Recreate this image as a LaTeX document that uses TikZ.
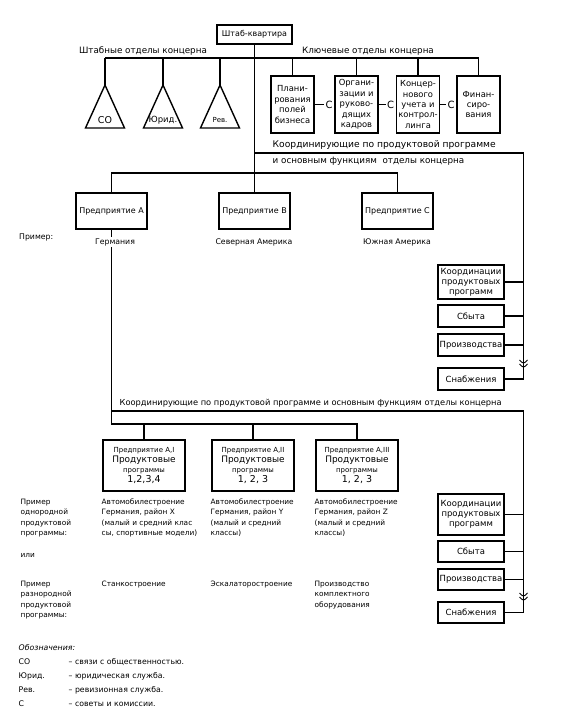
\documentclass[tikz,border=0pt]{standalone}
\usepackage{fontspec}
\setmainfont{DejaVu Sans}
\usepackage{tikz}
\usetikzlibrary{positioning}

\begin{document}
\begin{tikzpicture}[x=1bp,y=-1bp,line width=1.4bp,
  box/.style={draw,inner sep=1bp,align=center,font=\fontsize{8}{10}\selectfont},
  lbl/.style={inner sep=1.5bp,font=\fontsize{7.8}{9}\selectfont},
  head/.style={inner sep=0pt,font=\fontsize{8.8}{10}\selectfont},
  note/.style={inner sep=0pt,align=left,anchor=north west,font=\fontsize{7.4}{10.5}\selectfont},
  cmark/.style={inner sep=0.5bp,font=\fontsize{10}{10}\selectfont}]
\useasboundingbox (0,0) rectangle (561,720);

\node[box,minimum width=75bp,minimum height=19bp] (hq) at (254.5,34.5) {Штаб-квартира};
\node[head] (stl) at (143,51) {Штабные отделы концерна};
\node[head] (kll) at (368,51) {Ключевые отделы концерна};
\coordinate (bl) at (105,58);
\coordinate (br) at (479,58);
\draw (bl) -- (br);

\coordinate (so) at (105,85);
\coordinate (jur) at (163,85);
\coordinate (rev) at (220,85);
\draw (so) -- ++(19.5,43) -- ++(-39,0) -- cycle;
\draw (jur) -- ++(19.5,43) -- ++(-39,0) -- cycle;
\draw (rev) -- ++(19.5,43) -- ++(-39,0) -- cycle;
\draw (so) -- (so |- bl);
\draw (jur) -- (jur |- bl);
\draw (rev) -- (rev |- bl);
\node[lbl,font=\fontsize{9.5}{10}\selectfont] (sot) at (105,120) {СО};
\node[lbl,font=\fontsize{8.5}{10}\selectfont] (jurt) at (163,120) {Юрид.};
\node[lbl,font=\fontsize{7}{8}\selectfont] (revt) at (220,120) {Рев.};

\node[box,minimum width=43bp,minimum height=57bp,font=\fontsize{8.4}{10.5}\selectfont] (k1) at (292.5,104.5) {Плани-\\рования\\полей\\бизнеса};
\node[box,minimum width=43bp,minimum height=57bp,font=\fontsize{8.4}{10.5}\selectfont] (k2) at (356.5,104.5) {Органи-\\зации и\\руково-\\дящих\\кадров};
\node[box,minimum width=43bp,minimum height=57bp,font=\fontsize{8.4}{10.5}\selectfont] (k3) at (418,104.5) {Концер-\\нового\\учета и\\контрол-\\линга};
\node[box,minimum width=43bp,minimum height=57bp,font=\fontsize{8.4}{10.5}\selectfont] (k4) at (478.5,104.5) {Финан-\\сиро-\\вания};
\draw (k1.north) -- (k1.north |- br);
\draw (k2.north) -- (k2.north |- br);
\draw (k3.north) -- (k3.north |- br);
\draw (k4.north) -- (k4.north |- br);
\node[cmark,left=0.5bp of k2] (c1) {С};
\node[cmark,left=0.5bp of k3] (c2) {С};
\node[cmark,left=0.5bp of k4] (c3) {С};
\draw (k1.east |- c1) -- (c1.west);
\draw (k2.east |- c2) -- (c2.west);
\draw (k3.east |- c3) -- (c3.west);

\coordinate (kr1) at (523.5,153);
\node[head,anchor=south west,font=\fontsize{9.2}{10}\selectfont] (kt1) at (272,150) {Координирующие по продуктовой программе};
\node[head,anchor=north west] (kt2) at (272,156) {и основным функциям\ \ отделы концерна};

\node[box,minimum width=71bp,minimum height=36bp] (a) at (111.5,211) {Предприятие A};
\node[box,minimum width=71bp,minimum height=36bp] (b) at (254.5,211) {Предприятие B};
\node[box,minimum width=71bp,minimum height=36bp] (c) at (397.5,211) {Предприятие C};
\coordinate (eb) at (254.5,173);
\draw (hq.south) -- (b.north);
\draw (a.north) |- (eb) -| (c.north);

\node[box,minimum width=66bp,minimum height=34bp,font=\fontsize{8.5}{10}\selectfont] (kp1) at (471,282) {Координации\\продуктовых\\программ};
\node[box,minimum width=66bp,minimum height=22bp,font=\fontsize{8.5}{10}\selectfont] (sb1) at (471,316) {Сбыта};
\node[box,minimum width=66bp,minimum height=22bp,font=\fontsize{8.5}{10}\selectfont] (pv1) at (471,345) {Производства};
\node[box,minimum width=66bp,minimum height=22bp,font=\fontsize{8.5}{10}\selectfont] (sn1) at (471,379) {Снабжения};
\draw (hq.south |- kr1) -- (kr1) |- (sn1.east);
\draw (kp1.east) -- (kp1.east -| kr1);
\draw (sb1.east) -- (sb1.east -| kr1);
\draw (pv1.east) -- (pv1.east -| kr1);
\draw[line width=0.9bp] (519.5,360) .. controls (523.5,364) .. (527.5,360);
\draw[line width=0.9bp] (519.5,364) .. controls (523.5,368) .. (527.5,364);

\node[box,minimum width=82bp,minimum height=51bp] (a1) at (144,465.5) {{\fontsize{7}{8.5}\selectfont Предприятие A,I}\\{\fontsize{9}{10}\selectfont Продуктовые}\\{\fontsize{7}{8.5}\selectfont программы}\\{\fontsize{9.5}{10}\selectfont 1,2,3,4}};
\node[box,minimum width=82bp,minimum height=51bp] (a2) at (253,465.5) {{\fontsize{7}{8.5}\selectfont Предприятие A,II}\\{\fontsize{9}{10}\selectfont Продуктовые}\\{\fontsize{7}{8.5}\selectfont программы}\\{\fontsize{9.5}{10}\selectfont 1, 2, 3}};
\node[box,minimum width=82bp,minimum height=51bp] (a3) at (357,465.5) {{\fontsize{7}{8.5}\selectfont Предприятие A,III}\\{\fontsize{9}{10}\selectfont Продуктовые}\\{\fontsize{7}{8.5}\selectfont программы}\\{\fontsize{9.5}{10}\selectfont 1, 2, 3}};

\coordinate (kr2) at (523.5,411);
\coordinate (lo2) at (111.5,424);
\node[head,anchor=south west,font=\fontsize{8.3}{10}\selectfont] (kt3) at (119,408) {Координирующие по продуктовой программе и основным функциям отделы концерна};

\node[box,minimum width=66bp,minimum height=41bp,font=\fontsize{8.5}{10}\selectfont] (kp2) at (471,514.5) {Координации\\продуктовых\\программ};
\node[box,minimum width=66bp,minimum height=21bp,font=\fontsize{8.5}{10}\selectfont] (sb2) at (471,551.5) {Сбыта};
\node[box,minimum width=66bp,minimum height=21bp,font=\fontsize{8.5}{10}\selectfont] (pv2) at (471,579.5) {Производства};
\node[box,minimum width=66bp,minimum height=21bp,font=\fontsize{8.5}{10}\selectfont] (sn2) at (471,612.5) {Снабжения};
\draw (a.south |- kr2) -- (kr2) |- (sn2.east);
\draw (kp2.east) -- (kp2.east -| kr2);
\draw (sb2.east) -- (sb2.east -| kr2);
\draw (pv2.east) -- (pv2.east -| kr2);
\draw[line width=0.9bp] (519.5,593) .. controls (523.5,597) .. (527.5,593);
\draw[line width=0.9bp] (519.5,597) .. controls (523.5,601) .. (527.5,597);

\draw (a.south) -- (lo2) -| (a3.north);
\draw (a1.north) -- (a1.north |- lo2);
\draw (a2.north) -- (a2.north |- lo2);

\node[lbl,fill=white] (ger) at (115,242) {Германия};
\node[lbl] (nam) at (254,242) {Северная Америка};
\node[lbl] (sam) at (397,242) {Южная Америка};
\node[lbl,anchor=west] (pr) at (17,237) {Пример:};

\node[note] (n1) at (20,498) {Пример\\однородной\\продуктовой\\программы:};
\node[note] (ili) at (20,553) {или};
\node[note] (n2) at (20,580) {Пример\\разнородной\\продуктовой\\программы:};
\node[note] (t11) at (101,498) {Автомобилестроение\\Германия, район X\\(малый и средний клас\\сы, спортивные модели)};
\node[note] (t12) at (210,498) {Автомобилестроение\\Германия, район Y\\(малый и средний\\классы)};
\node[note] (t13) at (314,498) {Автомобилестроение\\Германия, район Z\\(малый и средний\\классы)};
\node[note] (t21) at (101,580) {Станкостроение};
\node[note] (t22) at (210,580) {Эскалаторостроение};
\node[note] (t23) at (314,580) {Производство\\комплектного\\оборудования};

\node[note,font=\fontsize{7.8}{14}\selectfont] (leg) at (18,644) {\textit{Обозначения:}\\
  \makebox[50bp][l]{СО}– связи с общественностью.\\
  \makebox[50bp][l]{Юрид.}– юридическая служба.\\
  \makebox[50bp][l]{Рев.}– ревизионная служба.\\
  \makebox[50bp][l]{С}– советы и комиссии.};
\end{tikzpicture}
\end{document}
